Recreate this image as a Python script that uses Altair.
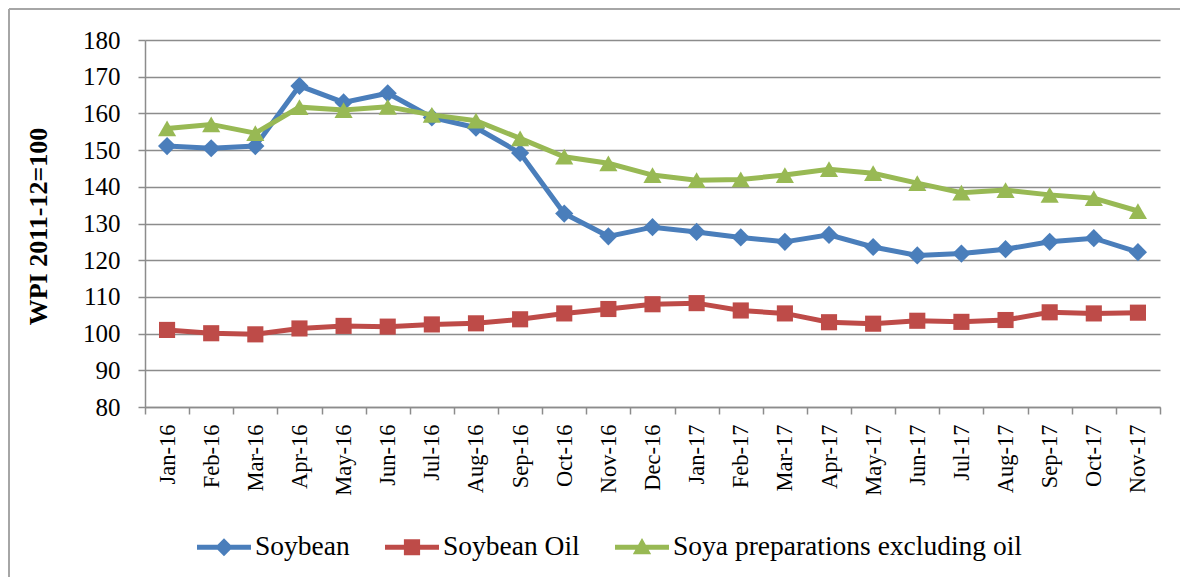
import altair as alt
import pandas as pd

months = ["Jan-16", "Feb-16", "Mar-16", "Apr-16", "May-16", "Jun-16", "Jul-16", "Aug-16",
          "Sep-16", "Oct-16", "Nov-16", "Dec-16", "Jan-17", "Feb-17", "Mar-17", "Apr-17",
          "May-17", "Jun-17", "Jul-17", "Aug-17", "Sep-17", "Oct-17", "Nov-17"]
soybean = [151.1, 150.5, 151.1, 167.5, 163.0, 165.5, 158.9, 156.1, 149.2, 132.7, 126.5, 129.0,
           127.7, 126.2, 125.0, 126.9, 123.6, 121.3, 121.8, 123.0, 125.0, 126.0, 122.2]
soybean_oil = [101.0, 100.1, 99.8, 101.4, 102.1, 101.9, 102.5, 102.8, 103.9, 105.5, 106.7, 108.0,
               108.3, 106.3, 105.5, 103.1, 102.7, 103.5, 103.2, 103.7, 105.8, 105.5, 105.7]
soya_prep = [155.9, 157.0, 154.6, 161.7, 160.9, 161.8, 159.6, 158.0, 153.2, 148.2, 146.4, 143.2,
             141.8, 142.0, 143.2, 144.8, 143.7, 141.0, 138.4, 139.1, 137.8, 136.9, 133.4]
series_names = ["Soybean", "Soybean Oil", "Soya preparations excluding oil"]
y_ticks = [80, 90, 100, 110, 120, 130, 140, 150, 160, 170, 180]

colors = ["#4A7EBB", "#BE4B48", "#98B954"]
shapes = ["diamond", "square", "triangle-up"]
sizes = [330, 260, 330]
legend_paths = [
    "M-1,-0.09H1V0.09H-1Z M0,-0.33L0.33,0L0,0.33L-0.33,0Z",
    "M-1,-0.09H1V0.09H-1Z M-0.3,-0.3H0.3V0.3H-0.3Z",
    "M-1,-0.09H1V0.09H-1Z M0,-0.34L0.34,0.26L-0.34,0.26Z",
]

rows = []
for name, vals in zip(series_names, [soybean, soybean_oil, soya_prep]):
    for m, v in zip(months, vals):
        rows.append({"series": name, "month": m, "value": v})
df = pd.DataFrame(rows)

FONT = "Liberation Serif, Times New Roman, serif"
GRAY = "#8c8c8c"

x_enc = alt.X("month:O", sort=months,
              scale=alt.Scale(type="band", paddingInner=0, paddingOuter=0),
              axis=alt.Axis(title=None, labelAngle=-90, labelFont=FONT, labelFontSize=22.5,
                            labelColor="black", labelPadding=10, tickBand="extent",
                            tickSize=7, tickColor=GRAY, domainColor=GRAY, domainWidth=1.5,
                            tickWidth=1.5, grid=False))
y_enc = alt.Y("value:Q", scale=alt.Scale(domain=[80, 180], nice=False, zero=False),
              axis=alt.Axis(values=y_ticks, title="WPI 2011-12=100", titleFont=FONT,
                            titleFontSize=26, titleFontWeight="bold", titleColor="black",
                            titleX=-107, titleY=186, titleBaseline="middle",
                            labelFont=FONT, labelFontSize=25, labelColor="black",
                            labelPadding=18, tickSize=7, tickColor=GRAY, tickWidth=1.5,
                            domainColor=GRAY, domainWidth=1.5, gridColor=GRAY,
                            gridWidth=1.5))

layers = []
for name, col, shp, sz in zip(series_names, colors, shapes, sizes):
    sub = alt.Chart(df).transform_filter(alt.datum.series == name)
    layers.append(sub.mark_line(color=col, strokeWidth=5).encode(x=x_enc, y=y_enc))
    layers.append(sub.mark_point(shape=shp, filled=True, size=sz, color=col, opacity=1)
                  .encode(x=x_enc, y=y_enc))

leg_kwargs = dict(title=None, orient="none", direction="horizontal", legendX=52, legendY=480,
                  labelFont=FONT, labelFontSize=27.5, labelColor="black", labelLimit=0,
                  symbolSize=2916, symbolStrokeWidth=0, columnPadding=35, labelOffset=4)
legend_layer = alt.Chart(df).transform_filter("false").mark_point(filled=True, opacity=1).encode(
    color=alt.Color("series:N", scale=alt.Scale(domain=series_names, range=colors),
                    legend=alt.Legend(**leg_kwargs)),
    shape=alt.Shape("series:N", scale=alt.Scale(domain=series_names, range=legend_paths),
                    legend=alt.Legend(**leg_kwargs)),
)

frame_v = alt.Chart(df).mark_rule(color="#a6a6a6", strokeWidth=1.5).encode(
    x=alt.value(-136), y=alt.value(-31), y2=alt.value(540))
frame_h = alt.Chart(df).mark_rule(color="#a6a6a6", strokeWidth=1.5).encode(
    x=alt.value(-136), x2=alt.value(1040), y=alt.value(-31))

chart = alt.layer(frame_v, frame_h, *layers, legend_layer).properties(
    width=1015, height=367,
    autosize=alt.AutoSizeParams(type="none"),
    padding={"left": 137, "top": 32, "right": 20, "bottom": 170},
).configure(font=FONT).configure_view(stroke="transparent").configure_legend(
    labelFont=FONT, labelFontSize=27.5, labelLimit=0, labelColor="black")

chart.save("out.html", embed_options={"renderer": "svg", "actions": False})
